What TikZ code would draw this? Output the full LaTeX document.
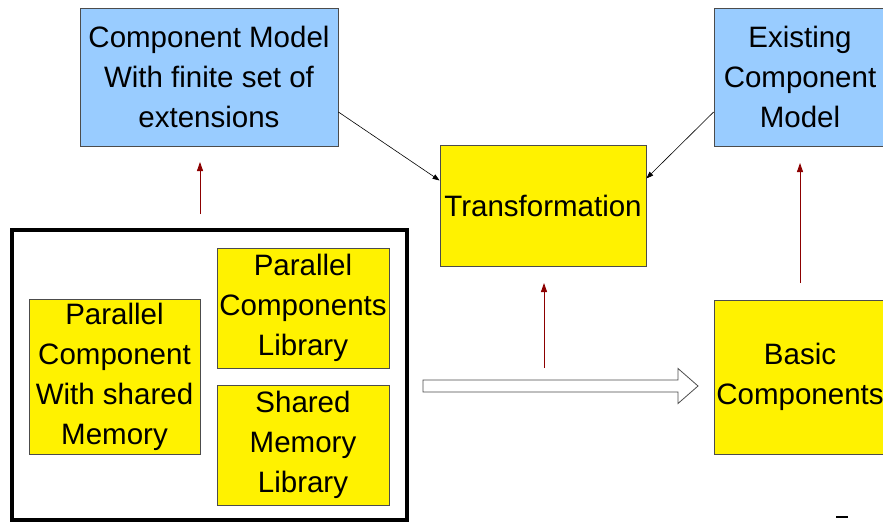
\documentclass[tikz,border=0pt]{standalone}
\usepackage{fontspec}
\setmainfont{Liberation Sans}
\usetikzlibrary{arrows.meta}

\tikzset{
  box/.style={draw=black!70, line width=0.8pt, align=center, inner sep=0pt,
    font={\fontsize{29.5}{40}\selectfont}},
  model/.style={box, fill={rgb,255:red,153;green,204;blue,255}},
  comp/.style={box, fill=yellow},
  feed/.style={-{Triangle[length=7pt,width=5pt]}, line width=0.6pt},
  lift/.style={-{Triangle[length=9pt,width=6pt]}, line width=0.9pt, draw={rgb,255:red,140;green,0;blue,0}, color={rgb,255:red,140;green,0;blue,0}},
}

\begin{document}
\begin{tikzpicture}[x=1pt, y=-1pt]
  \useasboundingbox (0,0) rectangle (883,522);
  \clip (0,0) rectangle (883,522);
  \node[model, minimum width=258pt, minimum height=138pt] (cmodel) at (209,77)
    {Component Model\\With finite set of\\extensions};
  \node[model, minimum width=172pt, minimum height=138pt] (existing) at (800,77)
    {Existing\\Component\\Model};
  \node[comp, minimum width=206pt, minimum height=121pt] (trans) at (543,205.5)
    {Transformation};
  \node[comp, minimum width=172pt, minimum height=154pt] (basic) at (800,377)
    {Basic\\Components};
  \node[draw, line width=3.5pt, minimum width=395pt, minimum height=290pt] (frame) at (209.5,375) {};
  \node[comp, minimum width=171pt, minimum height=155pt] (pcomp) at (114.5,376.5)
    {Parallel\\Component\\With shared\\Memory};
  \node[comp, minimum width=172pt, minimum height=120pt] (pclib) at (303,308)
    {Parallel\\Components\\Library};
  \node[comp, minimum width=172pt, minimum height=120pt] (smlib) at (303,445)
    {Shared\\Memory\\Library};

  \draw[feed] ([yshift=-35pt]cmodel.east) -- ([yshift=25pt]trans.west);
  \draw[feed] ([yshift=-35pt]existing.west) -- ([yshift=27pt]trans.east);

  \coordinate (l1a) at (200,214);
  \coordinate (l1b) at (200,162);
  \coordinate (l2a) at (544,368);
  \coordinate (l2b) at (544,283);
  \coordinate (l3a) at (800,283);
  \coordinate (l3b) at (800,163);
  \draw[lift] (l1a) -- (l1b);
  \draw[lift] (l2a) -- (l2b);
  \draw[lift] (l3a) -- (l3b);

  % hollow arrow from the frame to the basic components
  \coordinate (hs) at (423,386);
  \coordinate (he) at (698,386);
  \draw[black!70, line width=0.8pt, fill=white] ([yshift=6pt]hs) -- ([xshift=-20pt,yshift=6pt]he)
    -- ([xshift=-20pt,yshift=17.5pt]he) -- (he) -- ([xshift=-20pt,yshift=-17.5pt]he)
    -- ([xshift=-20pt,yshift=-6pt]he) -- ([yshift=-6pt]hs) -- cycle;

  \coordinate (m) at (836,517);
  \draw[line width=1.5pt] (m) -- ++(12,0);
\end{tikzpicture}
\end{document}
